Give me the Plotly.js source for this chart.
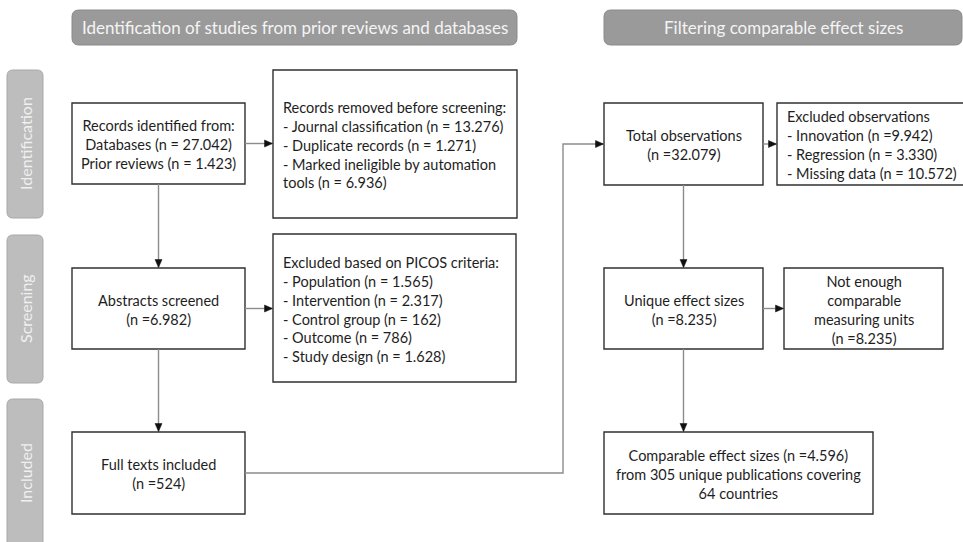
<!DOCTYPE html>
<html>
<head>
<meta charset="utf-8">
<script src="https://cdn.plot.ly/plotly-3.0.1.min.js"></script>
<style>html,body{margin:0;padding:0;background:#fff;overflow:hidden;}#chart{width:963px;height:542px;}</style>
</head>
<body>
<div id="chart"></div>
<script>
// ---- content ----
const sectionTitles = [
  "Identification of studies from prior reviews and databases",
  "Filtering comparable effect sizes"
];
const stageLabels = ["Identification", "Screening", "Included"];
const boxTexts = [
  "Records identified from:<br>Databases (n = 27.042)<br>Prior reviews (n = 1.423)",
  "Records removed before screening:<br>- Journal classification (n = 13.276)<br>- Duplicate records (n = 1.271)<br>- Marked ineligible by automation<br>tools (n = 6.936)",
  "Abstracts screened<br>(n =6.982)",
  "Excluded based on PICOS criteria:<br>- Population (n = 1.565)<br>- Intervention (n = 2.317)<br>- Control group (n = 162)<br>- Outcome (n = 786)<br>- Study design (n = 1.628)",
  "Full texts included<br>(n =524)",
  "Total observations<br>(n =32.079)",
  "Excluded observations<br>- Innovation (n =9.942)<br>- Regression (n = 3.330)<br>- Missing data (n = 10.572)",
  "Unique effect sizes<br>(n =8.235)",
  "Not enough<br>comparable<br>measuring units<br>(n =8.235)",
  "Comparable effect sizes (n =4.596)<br>from 305 unique publications covering<br>64 countries"
];

// ---- geometry (layout only) ----
const headerGeom = [[72, 517, 10, 45], [604, 962, 10, 45]];
const stageGeom = [[7, 43, 70, 218], [7, 43, 235, 383], [7, 43, 399, 560]];
const stageTextY = [144, 309, 473];
const boxGeom = [
  [72, 245, 103, 184],
  [273, 517, 70, 218],
  [72, 245, 268, 349],
  [273, 516, 234, 382],
  [72, 245, 432, 514],
  [604, 763, 103, 185],
  [777, 968, 103, 185],
  [604, 763, 268, 349],
  [784, 943, 268, 349],
  [604, 873, 432, 514]
];
const boxLeftAlign = [false, true, false, true, false, false, true, false, false, false];
// connectors: [fromBox, toBox, kind]
const connectors = [
  [0, 1, "right"], [0, 2, "down"], [2, 3, "right"], [2, 4, "down"],
  [4, 5, "elbow"], [5, 6, "right"], [5, 7, "down"], [7, 8, "right"], [7, 9, "down"]
];

const FONT = "Lato, 'Open Sans', sans-serif";
const shapes = [];
const annotations = [];

function roundRect(x0, x1, y0, y1, r) {
  return `M ${x0 + r},${y0} H ${x1 - r} Q ${x1},${y0} ${x1},${y0 + r} V ${y1 - r} Q ${x1},${y1} ${x1 - r},${y1} H ${x0 + r} Q ${x0},${y1} ${x0},${y1 - r} V ${y0 + r} Q ${x0},${y0} ${x0 + r},${y0} Z`;
}

sectionTitles.forEach((t, i) => {
  const [x0, x1, y0, y1] = headerGeom[i];
  shapes.push({type: "path", xref: "x", yref: "y", path: roundRect(x0, x1, y0, y1, 7),
    fillcolor: "#9a9a9a", line: {color: "#8a8a8a", width: 1}});
  annotations.push({x: (x0 + x1) / 2, y: (y0 + y1) / 2, xref: "x", yref: "y", text: t, showarrow: false,
    font: {family: FONT, size: 17, color: "#f4f4f4"}, xanchor: "center", yanchor: "middle"});
});

stageLabels.forEach((t, i) => {
  const [x0, x1, y0, y1] = stageGeom[i];
  shapes.push({type: "path", xref: "x", yref: "y", path: roundRect(x0, x1, y0, y1, 6),
    fillcolor: "#bdbdbd", line: {color: "#a8a8a8", width: 1}});
  annotations.push({x: (x0 + x1) / 2, y: stageTextY[i], xref: "x", yref: "y", text: t, showarrow: false,
    textangle: -90, font: {family: FONT, size: 16, color: "#f0f0f0"}, xanchor: "center", yanchor: "middle"});
});

boxTexts.forEach((t, i) => {
  const [x0, x1, y0, y1] = boxGeom[i];
  shapes.push({type: "rect", xref: "x", yref: "y", x0, x1, y0, y1,
    fillcolor: "#ffffff", line: {color: "#303030", width: 1.4}});
  const left = boxLeftAlign[i];
  annotations.push({x: left ? x0 + 8 : (x0 + x1) / 2, y: (y0 + y1) / 2 + 1, xref: "x", yref: "y",
    text: t, showarrow: false, align: left ? "left" : "center",
    xanchor: left ? "left" : "center", yanchor: "middle",
    font: {family: FONT, size: 14.5, color: "#1e1e1e"}});
});

const LINE = {color: "#8c8c8c", width: 1.4};
function arrowRight(x, y) {
  shapes.push({type: "path", xref: "x", yref: "y", path: `M ${x - 8},${y - 3.5} L ${x},${y} L ${x - 8},${y + 3.5} Z`,
    fillcolor: "#111", line: {color: "#111", width: 0.5}});
}
function arrowDown(x, y) {
  shapes.push({type: "path", xref: "x", yref: "y", path: `M ${x - 3.5},${y - 8} L ${x},${y} L ${x + 3.5},${y - 8} Z`,
    fillcolor: "#111", line: {color: "#111", width: 0.5}});
}
connectors.forEach(([a, b, kind]) => {
  const A = boxGeom[a], B = boxGeom[b];
  if (kind === "right") {
    const y = (A[2] + A[3]) / 2;
    shapes.push({type: "line", xref: "x", yref: "y", x0: A[1], x1: B[0] - 1, y0: y, y1: y, line: LINE});
    arrowRight(B[0] - 0.5, y);
  } else if (kind === "down") {
    const x = (A[0] + A[1]) / 2;
    shapes.push({type: "line", xref: "x", yref: "y", x0: x, x1: x, y0: A[3], y1: B[2] - 1, line: LINE});
    arrowDown(x, B[2] - 0.5);
  } else {
    const y0 = (A[2] + A[3]) / 2, y1 = (B[2] + B[3]) / 2, xm = 563;
    shapes.push({type: "path", xref: "x", yref: "y", path: `M ${A[1]},${y0} H ${xm} V ${y1} H ${B[0] - 1}`,
      line: LINE});
    arrowRight(B[0] - 0.5, y1);
  }
});

const layout = {
  width: 963, height: 542,
  margin: {l: 0, r: 0, t: 0, b: 0},
  paper_bgcolor: "#ffffff", plot_bgcolor: "#ffffff",
  xaxis: {range: [0, 963], visible: false, fixedrange: true},
  yaxis: {range: [542, 0], visible: false, fixedrange: true},
  showlegend: false,
  shapes, annotations
};
Plotly.newPlot("chart", [{x: [], y: [], type: "scatter", mode: "markers"}], layout, {displayModeBar: false, staticPlot: true});
</script>
</body>
</html>
